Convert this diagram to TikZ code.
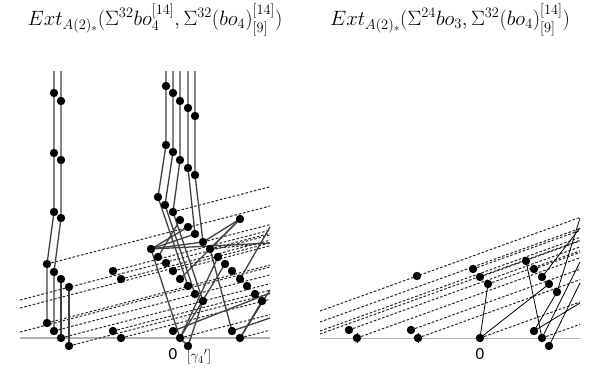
\documentclass[tikz,border=0pt]{standalone}
\usepackage{amsmath,amssymb}
\usepackage{fontspec}
\usepackage{tikz}
\newfontfamily\calibri{Carlito}

\begin{document}
\begin{tikzpicture}[x=1pt,y=-1pt,line width=1.3pt,
  hline/.style={dash pattern=on 2.6pt off 1.8pt,line width=1pt,black!85},
  rline/.style={line width=0.8pt},
  axisline/.style={gray!60}]
\useasboundingbox (0,0) rectangle (598,372);
% titles
\node (titleL) at (155,20) {\fontsize{21}{24}\selectfont $Ext_{A(2)_*}(\Sigma^{32}bo_4^{[14]},\Sigma^{32}(bo_4)^{[14]}_{[9]})$};
\node (titleR) at (450,20) {\fontsize{21}{24}\selectfont $Ext_{A(2)_*}(\Sigma^{24}bo_3,\Sigma^{32}(bo_4)^{[14]}_{[9]})$};

% left chart
\foreach \n/\x/\y in {A1/54/93,A2/61/101,A3/54/153,A4/61/160,A5/54/212,A6/61/218,
  B1/47/264,B2/54/272,B3/61/279,B4/69/287,B5/47/323,B6/54/331,B7/61/338,B8/69/346,
  C1/113/271,C2/121/279,C3/113/331,C4/121/338,
  D1/166/86,D2/173/93,D3/180/101,D4/188/108,D5/195/116,
  E1/166/145,E2/173/152,E3/180/160,E4/188/168,E5/195/175,
  F1/158/197,F2/165/205,F3/173/212,F4/180/220,F5/188/227,F6/195/234,F7/203/242,
  G1/151/249,G2/158/257,G3/166/263,G4/173/271,G5/180/279,G6/188/286,G7/195/294,G8/203/301,
  H1/240/219,K1/210/249,K2/218/257,K3/225/264,K4/232/271,K5/240/279,K6/247/286,K7/255/294,K8/262/301,
  L1/173/331,L2/180/338,L3/188/346,M1/232/331,M2/240/338}
  {\coordinate (\n) at (\x,\y);}
\foreach \n/\x in {tA/54,tB/61,tD1/166,tD2/173,tD3/180,tD4/188,tD5/195}
  {\coordinate (\n) at (\x,71);}
\coordinate (axL0) at (20,338); \coordinate (axL1) at (270,338);
\coordinate (eL1) at (20,300); \coordinate (eL2) at (20,308); \coordinate (eL3) at (20,332);
\coordinate (rL1) at (270,243); \coordinate (rL2) at (270,293); \coordinate (rL3) at (270,227);
\coordinate (rL4) at (270,290); \coordinate (rL5) at (270,318);

\draw[axisline,line width=2pt] (axL0)--(axL1);
\begin{scope}
\clip (20,60) rectangle (270,360);
\foreach \n in {eL1,eL2,eL3,B1,B5,B6,B7,B8,C1,C2,C3,C4,F3,F7,G4,L2,M2,K1}
  {\draw[hline] (\n)--++(300,-78);}
\draw[hline] (K1)--(rL1);
\end{scope}
\begin{scope}[black!75]
\draw (tA)--(A1)--(A3)--(A5)--(B1)--(B5);
\draw (tB)--(A2)--(A4)--(A6)--(B2)--(B6);
\draw (B3)--(B7); \draw (B4)--(B8);
\draw (tD1)--(D1)--(E1)--(F1); \draw (tD2)--(D2)--(E2)--(F2);
\draw (tD3)--(D3)--(E3)--(F3); \draw (tD4)--(D4)--(E4)--(F6);
\draw (tD5)--(D5)--(E5)--(F7);
\draw (F1)--(G6); \draw (F2)--(G7); \draw (F3)--(G8);
\draw (G1)--(F5); \draw (G1)--(F6); \draw (G1)--(F7); \draw (G1)--(rL1);
\draw (G1)--(L2); \draw (G2)--(F4);
\draw (H1)--(K1); \draw (H1)--(F7); \draw (H1)--(G5);
\draw (K1)--(M1); \draw (L1)--(rL2);
\draw (L2)--(K2); \draw (L2)--(K3); \draw (L3)--(G8); \draw (L3)--(L2);
\draw (M2)--(K8); \draw (M2)--(rL4); \draw (K5)--(rL3); \draw (M1)--(rL5);
\end{scope}
\foreach \n in {A1,A2,A3,A4,A5,A6,B1,B2,B3,B4,B5,B6,B7,B8,C1,C2,C3,C4,
  D1,D2,D3,D4,D5,E1,E2,E3,E4,E5,F1,F2,F3,F4,F5,F6,F7,G1,G2,G3,G4,G5,G6,G7,G8,
  H1,K1,K2,K3,K4,K5,K6,K7,K8,L1,L2,L3,M1,M2}
  {\fill (\n) circle (4.2pt);}
\node[font=\calibri\fontsize{17}{17}\selectfont] (zeroL) at (173,354) {0};
\node[font=\fontsize{15}{16}\selectfont] (gam) at (199,357) {$[\gamma_4{}']$};

% right chart
\foreach \n/\x/\y in {R1/349/330,R2/357/338,R3/411/330,R4/418/338,R5/480/338,
  S1/417/276,S2/473/269,S3/480/277,S4/488/284,
  T1/526/261,T2/534/269,T3/542/277,T4/549/284,T5/557/292,
  U1/534/331,U2/542/338,U3/549/346}
  {\coordinate (\n) at (\x,\y);}
\coordinate (axR0) at (320,338); \coordinate (axR1) at (580,338);
\coordinate (eR1) at (320,311); \coordinate (eR2) at (320,322);
\coordinate (eR3) at (320,331); \coordinate (eR4) at (320,334);
\coordinate (rR1) at (580,228); \coordinate (rR2) at (580,218);
\coordinate (rR3) at (580,303); \coordinate (rR4) at (580,262); \coordinate (rR5) at (580,283);

\draw[axisline,line width=1pt] (axR0)--(axR1);
\begin{scope}
\clip (320,60) rectangle (580,360);
\foreach \n in {eR1,eR2,eR3,eR4,R1,R2,R3,R4,R5,S2,S3,S4,T2,U2}
  {\draw[hline] (\n)--++(300,-108);}
\end{scope}
\begin{scope}[rline]
\draw (S4)--(R5); \draw (R5)--(T4);
\draw (T1)--(U2); \draw (U1)--(T5);
\draw (T3)--(rR1); \draw (T5)--(rR2);
\draw (U1)--(rR3); \draw (U2)--(rR4); \draw (U3)--(rR5);
\end{scope}
\foreach \n in {R2,R4} {\draw[rline] ([yshift=-5pt]\n)--([yshift=5pt]\n);}
\foreach \n in {R1,R2,R3,R4,R5,S1,S2,S3,S4,T1,T2,T3,T4,T5,U1,U2,U3}
  {\fill (\n) circle (4.2pt);}
\node[font=\calibri\fontsize{17}{17}\selectfont] (zeroR) at (480,354) {0};
\end{tikzpicture}
\end{document}
